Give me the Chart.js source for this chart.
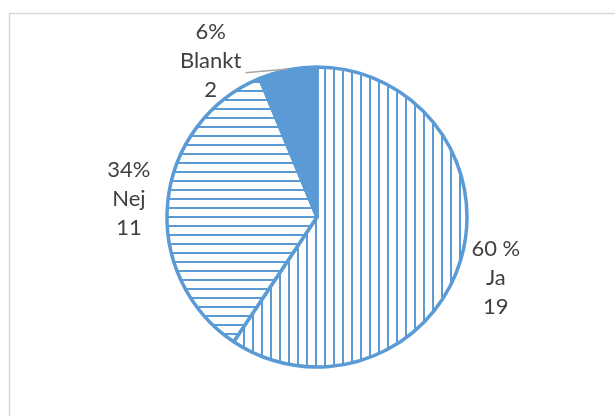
<!DOCTYPE html>
<html>
<head>
<meta charset="utf-8">
<script src="https://cdn.jsdelivr.net/npm/chart.js@4"></script>
<style>
    body { margin: 0; background: #fff; }
</style>
</head>
<body>
<canvas id="voteChart" width="615" height="416"></canvas>
<script>
// Data
const categories = ['Ja', 'Nej', 'Blankt'];
const counts = [19, 11, 2];
const percentLabels = ['60 %', '34%', '6%'];

const blue = '#5b9bd5';

// Striped fills (Excel-style patterns)
function stripePattern(vertical) {
    const size = 9;
    const c = document.createElement('canvas');
    c.width = size;
    c.height = size;
    const g = c.getContext('2d');
    g.fillStyle = '#ffffff';
    g.fillRect(0, 0, size, size);
    g.fillStyle = blue;
    if (vertical) {
        g.fillRect(0, 0, 2, size);
    } else {
        g.fillRect(0, 0, size, 2);
    }
    return g.createPattern(c, 'repeat');
}

// Outer frame of the chart
const framePlugin = {
    id: 'frame',
    beforeDraw(chart) {
        const ctx = chart.ctx;
        ctx.save();
        ctx.strokeStyle = '#d9d9d9';
        ctx.lineWidth = 1.5;
        ctx.strokeRect(9.5, 13.5, 700, 500);
        ctx.restore();
    }
};

// Labels outside each slice: percent / category / count
const outsideLabels = {
    id: 'outsideLabels',
    afterDatasetsDraw(chart, args, opts) {
        const ctx = chart.ctx;
        const meta = chart.getDatasetMeta(0);
        ctx.save();
        ctx.font = '22px Lato, "Open Sans", sans-serif';
        ctx.fillStyle = '#404040';
        ctx.textAlign = 'center';
        ctx.textBaseline = 'middle';
        meta.data.forEach((arc, i) => {
            const p = arc.getProps(['x', 'y', 'startAngle', 'endAngle', 'outerRadius'], true);
            const mid = (p.startAngle + p.endAngle) / 2;
            const a = mid + opts.angleShift[i] * Math.PI / 180;
            const lx = p.x + Math.cos(a) * opts.distance;
            const ly = p.y + Math.sin(a) * opts.distance;
            const lines = [percentLabels[i], categories[i], String(counts[i])];
            lines.forEach((t, k) => {
                ctx.fillText(t, lx, ly + (k - 1) * opts.lineHeight);
            });
            if (opts.leader[i]) {
                const ex = p.x + Math.cos(mid) * (p.outerRadius + 1);
                const ey = p.y + Math.sin(mid) * (p.outerRadius + 1);
                ctx.strokeStyle = '#a6a6a6';
                ctx.lineWidth = 1.5;
                ctx.beginPath();
                ctx.moveTo(ex, ey);
                ctx.lineTo(lx + 35, ly + 12);
                ctx.stroke();
            }
        });
        ctx.restore();
    }
};

new Chart(document.getElementById('voteChart'), {
    type: 'pie',
    data: {
        labels: categories,
        datasets: [{
            data: counts,
            backgroundColor: [stripePattern(true), stripePattern(false), blue],
            borderColor: blue,
            borderWidth: 3.5,
            hoverOffset: 0,
            radius: 150
        }]
    },
    options: {
        responsive: false,
        animation: false,
        events: [],
        layout: {
            padding: { left: 19, right: 0, top: 18, bottom: 0 }
        },
        plugins: {
            legend: { display: false },
            tooltip: { enabled: false },
            outsideLabels: {
                distance: 189,
                lineHeight: 29,
                angleShift: [2, 0, -23],
                leader: [false, false, true]
            }
        }
    },
    plugins: [framePlugin, outsideLabels]
});
</script>
</body>
</html>
